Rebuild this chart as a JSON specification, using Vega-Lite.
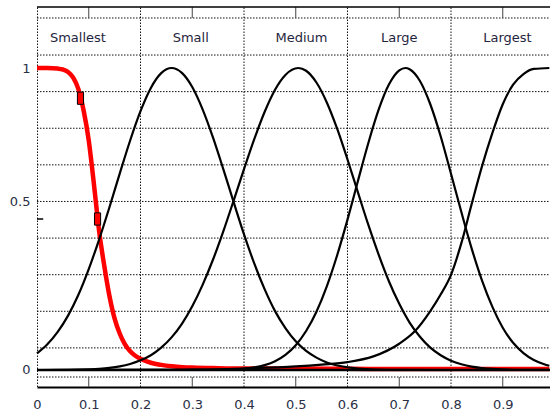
{
  "$schema": "https://vega.github.io/schema/vega-lite/v6.json",
  "width": 513,
  "height": 380,
  "autosize": {"type": "none"},
  "padding": {"left": 37, "top": 7, "right": 0, "bottom": 25},
  "background": "white",
  "config": {"view": {"stroke": null}, "font": "DejaVu Sans"},
  "datasets": {
    "hgrid": [
      {"x": 0, "x2": 0.9913, "y": 1.1656},
      {"x": 0, "x2": 0.9913, "y": 1.043},
      {"x": 0, "x2": 0.9913, "y": 0.9218},
      {"x": 0, "x2": 0.9913, "y": 0.8005},
      {"x": 0, "x2": 0.9913, "y": 0.6793},
      {"x": 0, "x2": 0.9913, "y": 0.5581},
      {"x": 0, "x2": 0.9913, "y": 0.4368},
      {"x": 0, "x2": 0.9913, "y": 0.3156},
      {"x": 0, "x2": 0.9913, "y": 0.1944},
      {"x": 0, "x2": 0.9913, "y": 0.0732},
      {"x": 0, "x2": 0.9913, "y": -0.0232}
    ],
    "vgrid": [
      {"x": 0.001, "y": -0.0563, "y2": 1.202},
      {"x": 0.2, "y": -0.0563, "y2": 1.202},
      {"x": 0.4, "y": -0.0563, "y2": 1.202},
      {"x": 0.6, "y": -0.0563, "y2": 1.202},
      {"x": 0.8, "y": -0.0563, "y2": 1.202}
    ],
    "ticks": [
      {"x": 0.1, "y": -0.0563, "y2": -0.0232},
      {"x": 0.3, "y": -0.0563, "y2": -0.0232},
      {"x": 0.5, "y": -0.0563, "y2": -0.0232},
      {"x": 0.7, "y": -0.0563, "y2": -0.0232},
      {"x": 0.9, "y": -0.0563, "y2": -0.0232},
      {"x": 0.1, "y": 1.202, "y2": 1.1656},
      {"x": 0.3, "y": 1.202, "y2": 1.1656},
      {"x": 0.5, "y": 1.202, "y2": 1.1656},
      {"x": 0.7, "y": 1.202, "y2": 1.1656},
      {"x": 0.9, "y": 1.202, "y2": 1.1656}
    ],
    "frame": [
      {"x": 0, "x2": 0.9913, "y": 1.202},
      {"x": 0, "x2": 0.012, "y": 0.5}
    ],
    "zero": [
      {"x": 0, "x2": 0.9913, "y": 0}
    ],
    "labels": [
      {"x": 0.079, "y": 1.101, "label": "Smallest"},
      {"x": 0.297, "y": 1.101, "label": "Small"},
      {"x": 0.511, "y": 1.101, "label": "Medium"},
      {"x": 0.70, "y": 1.101, "label": "Large"},
      {"x": 0.909, "y": 1.101, "label": "Largest"}
    ],
    "markers": [
      {"x": 0.084, "y": 0.9},
      {"x": 0.117, "y": 0.5}
    ],
    "curves": [
      {"s": "Smallest", "x": 0, "y": 1},
      {"s": "Smallest", "x": 0.02, "y": 1},
      {"s": "Smallest", "x": 0.04, "y": 0.998},
      {"s": "Smallest", "x": 0.05, "y": 0.995},
      {"s": "Smallest", "x": 0.06, "y": 0.987},
      {"s": "Smallest", "x": 0.07, "y": 0.968},
      {"s": "Smallest", "x": 0.08, "y": 0.93},
      {"s": "Smallest", "x": 0.09, "y": 0.86},
      {"s": "Smallest", "x": 0.10, "y": 0.76},
      {"s": "Smallest", "x": 0.11, "y": 0.615},
      {"s": "Smallest", "x": 0.12, "y": 0.46},
      {"s": "Smallest", "x": 0.13, "y": 0.345},
      {"s": "Smallest", "x": 0.14, "y": 0.245},
      {"s": "Smallest", "x": 0.15, "y": 0.17},
      {"s": "Smallest", "x": 0.16, "y": 0.12},
      {"s": "Smallest", "x": 0.17, "y": 0.085},
      {"s": "Smallest", "x": 0.18, "y": 0.062},
      {"s": "Smallest", "x": 0.19, "y": 0.047},
      {"s": "Smallest", "x": 0.20, "y": 0.037},
      {"s": "Smallest", "x": 0.22, "y": 0.024},
      {"s": "Smallest", "x": 0.24, "y": 0.017},
      {"s": "Smallest", "x": 0.27, "y": 0.011},
      {"s": "Smallest", "x": 0.30, "y": 0.008},
      {"s": "Smallest", "x": 0.35, "y": 0.006},
      {"s": "Smallest", "x": 0.40, "y": 0.005},
      {"s": "Smallest", "x": 0.50, "y": 0.005},
      {"s": "Smallest", "x": 0.60, "y": 0.004},
      {"s": "Smallest", "x": 0.70, "y": 0.003},
      {"s": "Smallest", "x": 0.80, "y": 0.003},
      {"s": "Smallest", "x": 0.90, "y": 0.003},
      {"s": "Smallest", "x": 0.99, "y": 0.003},

      {"s": "Small", "x": 0, "y": 0.055},
      {"s": "Small", "x": 0.02, "y": 0.085},
      {"s": "Small", "x": 0.04, "y": 0.126},
      {"s": "Small", "x": 0.06, "y": 0.18},
      {"s": "Small", "x": 0.08, "y": 0.249},
      {"s": "Small", "x": 0.10, "y": 0.334},
      {"s": "Small", "x": 0.12, "y": 0.432},
      {"s": "Small", "x": 0.14, "y": 0.539},
      {"s": "Small", "x": 0.16, "y": 0.651},
      {"s": "Small", "x": 0.18, "y": 0.76},
      {"s": "Small", "x": 0.20, "y": 0.857},
      {"s": "Small", "x": 0.22, "y": 0.934},
      {"s": "Small", "x": 0.24, "y": 0.983},
      {"s": "Small", "x": 0.26, "y": 1},
      {"s": "Small", "x": 0.28, "y": 0.984},
      {"s": "Small", "x": 0.30, "y": 0.937},
      {"s": "Small", "x": 0.32, "y": 0.863},
      {"s": "Small", "x": 0.34, "y": 0.77},
      {"s": "Small", "x": 0.36, "y": 0.665},
      {"s": "Small", "x": 0.38, "y": 0.556},
      {"s": "Small", "x": 0.40, "y": 0.449},
      {"s": "Small", "x": 0.42, "y": 0.352},
      {"s": "Small", "x": 0.44, "y": 0.267},
      {"s": "Small", "x": 0.46, "y": 0.195},
      {"s": "Small", "x": 0.48, "y": 0.139},
      {"s": "Small", "x": 0.50, "y": 0.095},
      {"s": "Small", "x": 0.52, "y": 0.063},
      {"s": "Small", "x": 0.54, "y": 0.041},
      {"s": "Small", "x": 0.56, "y": 0.025},
      {"s": "Small", "x": 0.58, "y": 0.015},
      {"s": "Small", "x": 0.60, "y": 0.009},
      {"s": "Small", "x": 0.62, "y": 0.005},
      {"s": "Small", "x": 0.66, "y": 0.0015},
      {"s": "Small", "x": 0.70, "y": 0.0004},
      {"s": "Small", "x": 0.80, "y": 0},
      {"s": "Small", "x": 0.99, "y": 0},

      {"s": "Medium", "x": 0, "y": 0},
      {"s": "Medium", "x": 0.06, "y": 0.0006},
      {"s": "Medium", "x": 0.10, "y": 0.0023},
      {"s": "Medium", "x": 0.12, "y": 0.004},
      {"s": "Medium", "x": 0.14, "y": 0.007},
      {"s": "Medium", "x": 0.16, "y": 0.012},
      {"s": "Medium", "x": 0.18, "y": 0.02},
      {"s": "Medium", "x": 0.20, "y": 0.032},
      {"s": "Medium", "x": 0.22, "y": 0.049},
      {"s": "Medium", "x": 0.24, "y": 0.074},
      {"s": "Medium", "x": 0.26, "y": 0.108},
      {"s": "Medium", "x": 0.28, "y": 0.153},
      {"s": "Medium", "x": 0.30, "y": 0.211},
      {"s": "Medium", "x": 0.32, "y": 0.282},
      {"s": "Medium", "x": 0.34, "y": 0.365},
      {"s": "Medium", "x": 0.36, "y": 0.459},
      {"s": "Medium", "x": 0.38, "y": 0.561},
      {"s": "Medium", "x": 0.40, "y": 0.665},
      {"s": "Medium", "x": 0.42, "y": 0.765},
      {"s": "Medium", "x": 0.44, "y": 0.855},
      {"s": "Medium", "x": 0.46, "y": 0.928},
      {"s": "Medium", "x": 0.48, "y": 0.977},
      {"s": "Medium", "x": 0.505, "y": 1},
      {"s": "Medium", "x": 0.52, "y": 0.991},
      {"s": "Medium", "x": 0.54, "y": 0.952},
      {"s": "Medium", "x": 0.56, "y": 0.886},
      {"s": "Medium", "x": 0.58, "y": 0.799},
      {"s": "Medium", "x": 0.60, "y": 0.697},
      {"s": "Medium", "x": 0.62, "y": 0.589},
      {"s": "Medium", "x": 0.64, "y": 0.482},
      {"s": "Medium", "x": 0.66, "y": 0.383},
      {"s": "Medium", "x": 0.68, "y": 0.294},
      {"s": "Medium", "x": 0.70, "y": 0.219},
      {"s": "Medium", "x": 0.72, "y": 0.157},
      {"s": "Medium", "x": 0.74, "y": 0.11},
      {"s": "Medium", "x": 0.76, "y": 0.074},
      {"s": "Medium", "x": 0.78, "y": 0.049},
      {"s": "Medium", "x": 0.80, "y": 0.031},
      {"s": "Medium", "x": 0.82, "y": 0.019},
      {"s": "Medium", "x": 0.84, "y": 0.011},
      {"s": "Medium", "x": 0.86, "y": 0.0065},
      {"s": "Medium", "x": 0.88, "y": 0.0036},
      {"s": "Medium", "x": 0.90, "y": 0.002},
      {"s": "Medium", "x": 0.94, "y": 0.0005},
      {"s": "Medium", "x": 0.99, "y": 0.0001},

      {"s": "Large", "x": 0, "y": 0},
      {"s": "Large", "x": 0.30, "y": 0.0001},
      {"s": "Large", "x": 0.36, "y": 0.001},
      {"s": "Large", "x": 0.40, "y": 0.0045},
      {"s": "Large", "x": 0.44, "y": 0.016},
      {"s": "Large", "x": 0.46, "y": 0.029},
      {"s": "Large", "x": 0.48, "y": 0.05},
      {"s": "Large", "x": 0.50, "y": 0.082},
      {"s": "Large", "x": 0.52, "y": 0.129},
      {"s": "Large", "x": 0.54, "y": 0.193},
      {"s": "Large", "x": 0.56, "y": 0.277},
      {"s": "Large", "x": 0.58, "y": 0.38},
      {"s": "Large", "x": 0.60, "y": 0.498},
      {"s": "Large", "x": 0.62, "y": 0.625},
      {"s": "Large", "x": 0.64, "y": 0.75},
      {"s": "Large", "x": 0.66, "y": 0.861},
      {"s": "Large", "x": 0.68, "y": 0.945},
      {"s": "Large", "x": 0.70, "y": 0.992},
      {"s": "Large", "x": 0.712, "y": 1},
      {"s": "Large", "x": 0.72, "y": 0.996},
      {"s": "Large", "x": 0.74, "y": 0.957},
      {"s": "Large", "x": 0.76, "y": 0.88},
      {"s": "Large", "x": 0.78, "y": 0.774},
      {"s": "Large", "x": 0.80, "y": 0.65},
      {"s": "Large", "x": 0.82, "y": 0.523},
      {"s": "Large", "x": 0.84, "y": 0.402},
      {"s": "Large", "x": 0.86, "y": 0.296},
      {"s": "Large", "x": 0.88, "y": 0.209},
      {"s": "Large", "x": 0.90, "y": 0.14},
      {"s": "Large", "x": 0.92, "y": 0.09},
      {"s": "Large", "x": 0.94, "y": 0.056},
      {"s": "Large", "x": 0.96, "y": 0.033},
      {"s": "Large", "x": 0.98, "y": 0.019},
      {"s": "Large", "x": 0.99, "y": 0.014},

      {"s": "Largest", "x": 0, "y": 0},
      {"s": "Largest", "x": 0.20, "y": 0.0005},
      {"s": "Largest", "x": 0.30, "y": 0.001},
      {"s": "Largest", "x": 0.40, "y": 0.005},
      {"s": "Largest", "x": 0.50, "y": 0.012},
      {"s": "Largest", "x": 0.55, "y": 0.018},
      {"s": "Largest", "x": 0.60, "y": 0.026},
      {"s": "Largest", "x": 0.65, "y": 0.045},
      {"s": "Largest", "x": 0.70, "y": 0.087},
      {"s": "Largest", "x": 0.73, "y": 0.128},
      {"s": "Largest", "x": 0.76, "y": 0.195},
      {"s": "Largest", "x": 0.78, "y": 0.25},
      {"s": "Largest", "x": 0.80, "y": 0.315},
      {"s": "Largest", "x": 0.82, "y": 0.42},
      {"s": "Largest", "x": 0.84, "y": 0.55},
      {"s": "Largest", "x": 0.86, "y": 0.675},
      {"s": "Largest", "x": 0.88, "y": 0.785},
      {"s": "Largest", "x": 0.90, "y": 0.88},
      {"s": "Largest", "x": 0.92, "y": 0.945},
      {"s": "Largest", "x": 0.94, "y": 0.98},
      {"s": "Largest", "x": 0.96, "y": 0.997},
      {"s": "Largest", "x": 0.99, "y": 1}
    ]
  },
  "encoding": {
    "x": {
      "field": "x",
      "type": "quantitative",
      "scale": {"domain": [0, 0.9913], "nice": false, "zero": false},
      "axis": {
        "values": [0, 0.1, 0.2, 0.3, 0.4, 0.5, 0.6, 0.7, 0.8, 0.9],
        "format": ".1~f",
        "title": null,
        "grid": false,
        "ticks": false,
        "tickSize": 0,
        "domain": true,
        "domainColor": "#000000",
        "domainWidth": 2,
        "labelPadding": 11,
        "labelFontSize": 13,
        "labelColor": "#2a2f45",
        "labelFont": "DejaVu Sans",
        "labelFlush": false,
        "labelOverlap": false
      }
    },
    "y": {
      "field": "y",
      "type": "quantitative",
      "scale": {"domain": [-0.0563, 1.202], "nice": false, "zero": false},
      "axis": {
        "values": [0, 0.558, 1],
        "labelExpr": "datum.value == 0 ? '0' : (datum.value == 1 ? '1' : '0.5')",
        "title": null,
        "grid": false,
        "ticks": false,
        "tickSize": 0,
        "domain": false,
        "labelPadding": 7,
        "labelFontSize": 13,
        "labelColor": "#2a2f45",
        "labelFont": "DejaVu Sans",
        "labelFlush": false,
        "labelOverlap": false
      }
    }
  },
  "layer": [
    {
      "data": {"name": "hgrid"},
      "mark": {"type": "rule", "color": "#111111", "strokeWidth": 1, "strokeDash": [1.5, 1.5]},
      "encoding": {"x2": {"field": "x2"}}
    },
    {
      "data": {"name": "vgrid"},
      "mark": {"type": "rule", "color": "#111111", "strokeWidth": 1, "strokeDash": [1.5, 1.5]},
      "encoding": {"y2": {"field": "y2"}}
    },
    {
      "data": {"name": "ticks"},
      "mark": {"type": "rule", "color": "#444444", "strokeWidth": 1},
      "encoding": {"y2": {"field": "y2"}}
    },
    {
      "data": {"name": "frame"},
      "mark": {"type": "rule", "color": "#000000", "strokeWidth": 1.5},
      "encoding": {"x2": {"field": "x2"}}
    },
    {
      "data": {"name": "labels"},
      "mark": {"type": "text", "fontSize": 13, "font": "DejaVu Sans", "color": "#1f2540", "align": "center", "baseline": "middle"},
      "encoding": {"text": {"field": "label"}}
    },
    {
      "data": {"name": "curves"},
      "transform": [{"filter": "datum.s == 'Smallest'"}],
      "mark": {"type": "line", "color": "#ff0000", "strokeWidth": 4.5, "interpolate": "monotone"},
      "encoding": {"detail": {"field": "s"}}
    },
    {
      "data": {"name": "zero"},
      "mark": {"type": "rule", "color": "#000000", "strokeWidth": 2.5},
      "encoding": {"x2": {"field": "x2"}}
    },
    {
      "data": {"name": "curves"},
      "transform": [{"filter": "datum.s != 'Smallest'"}],
      "mark": {"type": "line", "color": "#000000", "strokeWidth": 2.2, "interpolate": "monotone"},
      "encoding": {"detail": {"field": "s"}}
    },
    {
      "data": {"name": "markers"},
      "mark": {"type": "point", "shape": "M-0.5,-1H0.5V1H-0.5Z", "size": 150, "filled": true, "fill": "#ff0000", "stroke": "#000000", "strokeWidth": 1, "opacity": 1},
      "encoding": {}
    }
  ]
}
